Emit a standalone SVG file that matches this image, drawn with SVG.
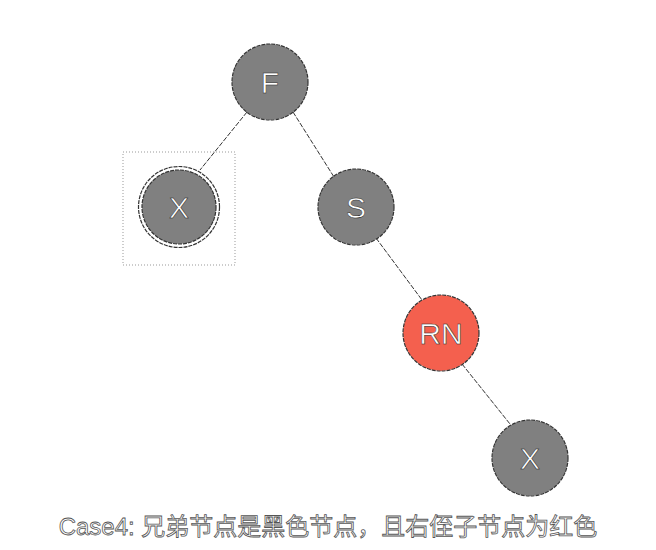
<svg xmlns="http://www.w3.org/2000/svg" width="656" height="550" viewBox="0 0 656 550">
<style>
.node{fill:#808080;stroke:#333;stroke-width:1.2;stroke-dasharray:4 1}
.red{fill:#f4604e}
.lbl{font-family:"Liberation Sans",Arial,sans-serif;font-size:30px;fill:#fff;stroke:#222;stroke-width:0.5;text-anchor:middle;dominant-baseline:central}
.edge{stroke:#333;stroke-width:1;stroke-dasharray:5 1.5;fill:none}
.cap{font-family:"Liberation Sans","Noto Sans CJK SC",sans-serif;font-size:24px;fill:#fff;stroke:#555;stroke-width:0.8;text-anchor:middle}
</style>
<rect width="656" height="550" fill="#fff"/>
<g id="connectors">
<line class="edge" x1="247" y1="112" x2="200" y2="170"/>
<line class="edge" x1="293" y1="112" x2="334" y2="177"/>
<line class="edge" x1="376" y1="238" x2="422" y2="300"/>
<line class="edge" x1="462" y1="364" x2="510" y2="424"/>
</g>
<g id="box"><rect x="123" y="152" width="112" height="113" fill="none" stroke="#999" stroke-width="1" stroke-dasharray="1 2"/></g>
<g id="nodeF"><circle class="node" cx="270" cy="82" r="38"/><text class="lbl" x="270" y="82">F</text></g>
<g id="nodeX1"><circle cx="179" cy="207" r="40.5" fill="#fff" stroke="#333" stroke-width="1.2" stroke-dasharray="4 1"/><circle class="node" cx="179" cy="207" r="37" stroke="none"/><text class="lbl" x="179" y="207">X</text></g>
<g id="nodeS"><circle class="node" cx="356" cy="207" r="38"/><text class="lbl" x="356" y="207">S</text></g>
<g id="nodeRN"><circle class="node red" cx="441" cy="333" r="38"/><text class="lbl" x="441" y="333">RN</text></g>
<g id="nodeX2"><circle class="node" cx="530" cy="458" r="38"/><text class="lbl" x="530" y="458">X</text></g>
<text class="cap" x="328" y="535">Case4: 兄弟节点是黑色节点，且右侄子节点为红色</text>
</svg>
